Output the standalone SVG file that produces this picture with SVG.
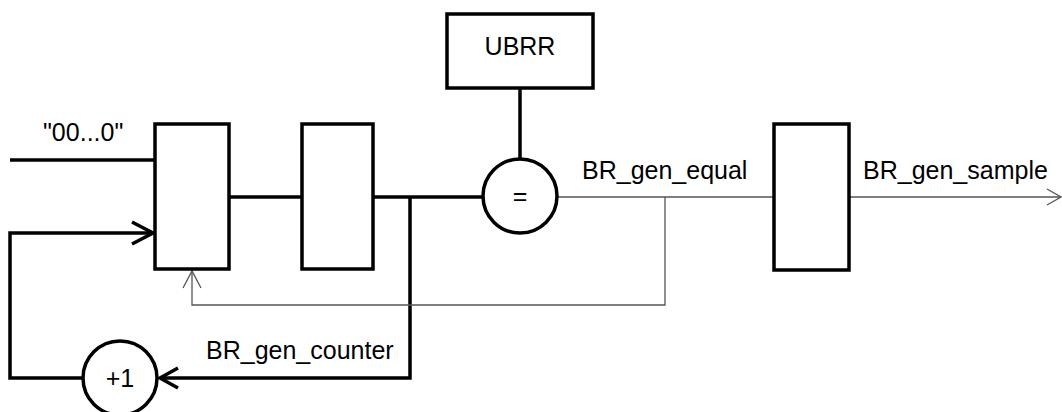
<svg xmlns="http://www.w3.org/2000/svg" width="1062" height="412" viewBox="0 0 1062 412">
<style>
.blk{fill:#fff;stroke:#000;stroke-width:3.5}
.thick{fill:none;stroke:#000;stroke-width:3.5}
.thin{fill:none;stroke:#555;stroke-width:1.3}
text{font-family:"Liberation Sans",Arial,sans-serif;font-size:25px;fill:#000}
.c{text-anchor:middle}
</style>
<rect width="1062" height="412" fill="#fff"/>
<g id="connectors">
<line class="thick" x1="10" y1="160" x2="155" y2="160"/>
<polyline class="thick" points="120,378 10,378 10,233 153,233"/>
<polyline class="thick" points="132,222 153,233 132,244"/>
<line class="thick" x1="229" y1="197" x2="302" y2="197"/>
<line class="thick" x1="373" y1="197" x2="483" y2="197"/>
<line class="thick" x1="520" y1="88" x2="520" y2="159"/>
<polyline class="thick" points="410,197 410,378 160,378"/>
<polyline class="thick" points="178,368 160,378 178,388"/>
<line class="thin" x1="557" y1="197" x2="774" y2="197"/>
<polyline class="thin" points="665,197 665,305 192,305 192,271"/>
<polyline class="thin" points="183,288 192,271 201,288"/>
<line class="thin" x1="849" y1="197" x2="1061" y2="197"/>
<polyline class="thin" points="1047,189 1061,197 1047,205"/>
</g>
<g id="mux"><rect class="blk" x="155" y="124" width="74" height="145"/></g>
<g id="reg"><rect class="blk" x="302" y="124" width="71" height="145"/></g>
<g id="ubrr"><rect class="blk" x="447" y="14" width="146" height="74"/><text class="c" x="520" y="55">UBRR</text></g>
<g id="cmp"><circle class="blk" cx="520" cy="196" r="37"/><text class="c" x="520" y="205">=</text></g>
<g id="inc"><circle class="blk" cx="120" cy="378" r="37"/><text class="c" x="120" y="387">+1</text></g>
<g id="outreg"><rect class="blk" x="774" y="124" width="75" height="146"/></g>
<g id="labels">
<text x="43" y="141">"00...0"</text>
<text x="582" y="179">BR_gen_equal</text>
<text x="863" y="179">BR_gen_sample</text>
<text x="206" y="359">BR_gen_counter</text>
</g>
</svg>
